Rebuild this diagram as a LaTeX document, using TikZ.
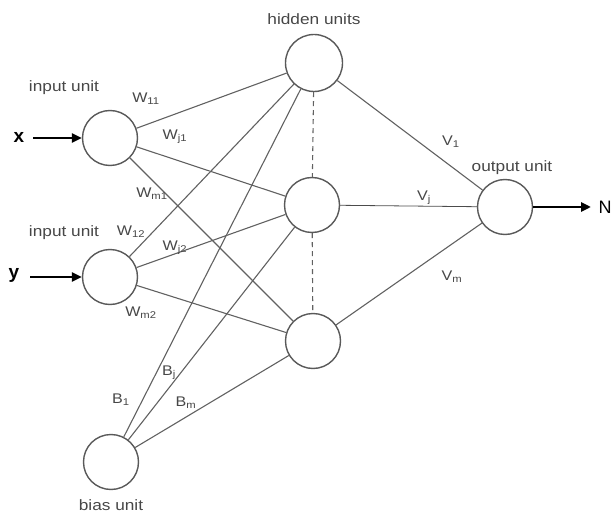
\documentclass[tikz,border=0pt]{standalone}
\usepackage{fontspec}
\setmainfont{Liberation Sans}
\usetikzlibrary{arrows.meta}
\newcommand{\wide}[1]{\scalebox{1.15}[1]{#1}}
\begin{document}
\begin{tikzpicture}[x=1pt,y=-1pt,
  unit/.style={circle,draw=black!65,line width=1.4pt,minimum size=55pt,inner sep=0pt},
  conn/.style={draw=black!62,line width=1.1pt},
  dconn/.style={draw=black!62,line width=1.1pt,dash pattern=on 5pt off 4pt},
  lbl/.style={text=black!72,inner sep=0pt,font=\fontsize{15}{15}\selectfont},
  wl/.style={text=black!72,inner sep=0pt,font=\fontsize{14}{14}\selectfont},
  bigl/.style={text=black,inner sep=0pt,font=\fontsize{19}{19}\selectfont\bfseries},
  ioarrow/.style={draw=black,line width=2.5pt,-{Triangle[length=10pt,width=9pt]}}]
\useasboundingbox (0,0) rectangle (613,513);
% units
\node[unit] (x1) at (110,138) {};
\node[unit] (x2) at (110,277) {};
\node[unit] (b) at (111,462) {};
\node[unit,minimum size=57pt] (h1) at (314,63) {};
\node[unit] (h2) at (312,205) {};
\node[unit] (h3) at (313,341) {};
\node[unit] (o) at (505,207) {};
% connections
\foreach \s in {x1,x2,b}{
  \foreach \t in {h1,h2,h3}{
    \draw[conn] (\s) -- (\t);
  }
}
\draw[conn] (h1) -- (o);
\draw[draw=black!70,line width=0.8pt] (h2) -- (o);
\draw[conn] (h3) -- (o);
\draw[dconn] (h1) -- (h2);
\draw[dconn] (h2) -- (h3);
% inputs / output
\node[bigl] (xl) at (19,137) {x};
\node[bigl] (yl) at (14,275) {y};
\node[bigl,font=\fontsize{18}{18}\selectfont] (nl) at (605,207) {N};
\draw[ioarrow] (33,138) coordinate (xs) -- (x1.west);
\draw[ioarrow] (30,277) coordinate (ys) -- (x2.west);
\draw[ioarrow] (o.east) -- (591,207) coordinate (ne);
% labels
\node[lbl] (li1) at (64,88) {\wide{input unit}};
\node[lbl] (li2) at (64,233) {\wide{input unit}};
\node[lbl] (lh) at (314,19) {\wide{hidden units}};
\node[lbl] (lo) at (512,168) {\wide{output unit}};
\node[lbl] (lb) at (111,505) {\wide{bias unit}};
\node[wl] at (146,99) {\wide{W\textsubscript{11}}};
\node[wl] at (175,137) {\wide{W\textsubscript{j1}}};
\node[wl] at (152,194) {\wide{W\textsubscript{m1}}};
\node[wl] at (131,232) {\wide{W\textsubscript{12}}};
\node[wl] at (175,248) {\wide{W\textsubscript{j2}}};
\node[wl] at (141,313) {\wide{W\textsubscript{m2}}};
\node[wl] at (121,400) {\wide{B\textsubscript{1}}};
\node[wl] at (169,373) {\wide{B\textsubscript{j}}};
\node[wl] at (186,403) {\wide{B\textsubscript{m}}};
\node[wl] at (451,142) {\wide{V\textsubscript{1}}};
\node[wl] at (424,198) {\wide{V\textsubscript{j}}};
\node[wl] at (452,277) {\wide{V\textsubscript{m}}};
\end{tikzpicture}
\end{document}
